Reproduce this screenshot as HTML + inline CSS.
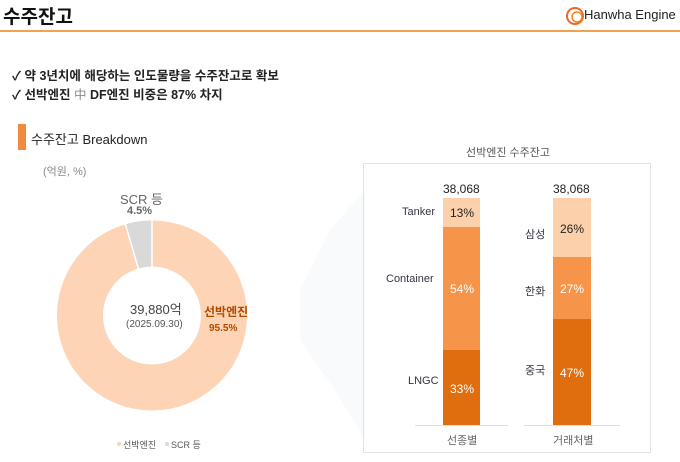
<!DOCTYPE html>
<html><head><meta charset="utf-8"><style>
body{margin:0;width:680px;height:462px;background:#fff;font-family:"Liberation Sans","Noto Sans CJK KR",sans-serif;position:relative;overflow:hidden;color:#222}
.a{position:absolute;white-space:nowrap}
</style></head><body>
<div class="a" style="left:3px;top:2px;font-size:19px;font-weight:bold;color:#111">수주잔고</div>
<div class="a" style="top:7px;font-size:13px;color:#222;left:584px">Hanwha Engine</div>
<svg class="a" style="left:564px;top:5px" width="22" height="22" viewBox="0 0 22 22"><circle cx="11" cy="11" r="8" fill="none" stroke="#f26522" stroke-width="2"/><circle cx="13" cy="12" r="5" fill="none" stroke="#f58220" stroke-width="1.5"/></svg>
<div class="a" style="left:0;top:30px;width:680px;height:2px;background:#f5a04f"></div>
<div class="a" style="left:12px;top:65px;font-size:12.5px;font-weight:bold">✓ 약 3년치에 해당하는 인도물량을 수주잔고로 확보</div>
<div class="a" style="left:12px;top:84px;font-size:12.5px;font-weight:bold">✓ 선박엔진 <span style="color:#888;font-weight:normal">中</span> DF엔진 비중은 87% 차지</div>
<div class="a" style="left:18px;top:124px;width:8px;height:26px;background:#f08a3c"></div>
<div class="a" style="left:31px;top:129px;font-size:13px">수주잔고 Breakdown</div>
<div class="a" style="left:43px;top:163px;font-size:11px;color:#888">(억원, %)</div>
<div class="a" style="left:120px;top:189px;font-size:13px;color:#666">SCR 등</div>
<div class="a" style="left:127px;top:205px;font-size:11px;color:#666;font-weight:bold">4.5%</div>
<svg class="a" style="left:0;top:0" width="300" height="462">
<circle cx="152" cy="315.5" r="72" fill="none" stroke="#fdd4b5" stroke-width="46"/>
<path d="M152 220.5 A95 95 0 0 0 125.5 224.3 L138.3 268.5 A49 49 0 0 1 152 266.5Z" fill="#d9d9d9"/>
<line x1="152" y1="220" x2="152" y2="267" stroke="#fff" stroke-width="1.5"/>
<line x1="125.3" y1="223.8" x2="138.4" y2="268.8" stroke="#fff" stroke-width="1.5"/>
<circle cx="119" cy="444" r="2" fill="#fdd4b5"/><circle cx="167" cy="444" r="2" fill="#d9d9d9"/>
</svg>
<div class="a" style="left:130px;top:299px;font-size:13px;color:#444">39,880억</div>
<div class="a" style="left:126px;top:319px;font-size:10px;color:#555">(2025.09.30)</div>
<div class="a" style="left:204px;top:303px;font-size:12px;color:#b34a00;font-weight:bold">선박엔진</div>
<div class="a" style="left:209px;top:323px;font-size:10px;color:#b34a00;font-weight:bold">95.5%</div>
<div class="a" style="left:123px;top:438px;font-size:9px;color:#555">선박엔진</div>
<div class="a" style="left:171px;top:438px;font-size:9px;color:#555">SCR 등</div>
<div class="a" style="left:466px;top:144px;font-size:11px;color:#555">선박엔진 수주잔고</div>
<svg class="a" style="left:290px;top:160px" width="80" height="300"><polygon points="75,30 40,70 10,130 10,180 45,230 75,280" fill="#f9fafc"/></svg>
<div class="a" style="left:363px;top:163px;width:286px;height:288px;border:1px solid #dfe3ea"></div>
<div class="a" style="left:443px;top:198px;width:37px;height:29px;background:#fdd0ac"></div>
<div class="a" style="left:443px;top:227px;width:37px;height:123px;background:#f6944a"></div>
<div class="a" style="left:443px;top:350px;width:37px;height:75px;background:#e06d0e"></div>
<div class="a" style="left:553px;top:198px;width:38px;height:59px;background:#fdd0ac"></div>
<div class="a" style="left:553px;top:257px;width:38px;height:62px;background:#f6944a"></div>
<div class="a" style="left:553px;top:319px;width:38px;height:106px;background:#e06d0e"></div>
<div class="a" style="left:415px;top:425px;width:93px;height:1px;background:#dde"></div>
<div class="a" style="left:524px;top:425px;width:96px;height:1px;background:#dde"></div>
<div class="a" style="left:443px;top:182px;font-size:12px;color:#222">38,068</div>
<div class="a" style="left:553px;top:182px;font-size:12px;color:#222">38,068</div>
<div class="a" style="left:450px;top:206px;font-size:12px">13%</div>
<div class="a" style="left:450px;top:282px;font-size:12px;color:#fff">54%</div>
<div class="a" style="left:450px;top:382px;font-size:12px;color:#fff">33%</div>
<div class="a" style="left:560px;top:222px;font-size:12px">26%</div>
<div class="a" style="left:560px;top:282px;font-size:12px;color:#fff">27%</div>
<div class="a" style="left:560px;top:366px;font-size:12px;color:#fff">47%</div>
<div class="a" style="left:402px;top:206px;font-size:11px;color:#334">Tanker</div>
<div class="a" style="left:386px;top:273px;font-size:11px;color:#334">Container</div>
<div class="a" style="left:408px;top:375px;font-size:11px;color:#334">LNGC</div>
<div class="a" style="left:525px;top:226px;font-size:11px;color:#334">삼성</div>
<div class="a" style="left:525px;top:283px;font-size:11px;color:#334">한화</div>
<div class="a" style="left:525px;top:362px;font-size:11px;color:#334">중국</div>
<div class="a" style="left:447px;top:432px;font-size:11px;color:#666">선종별</div>
<div class="a" style="left:553px;top:432px;font-size:11px;color:#666">거래처별</div>
</body></html>
